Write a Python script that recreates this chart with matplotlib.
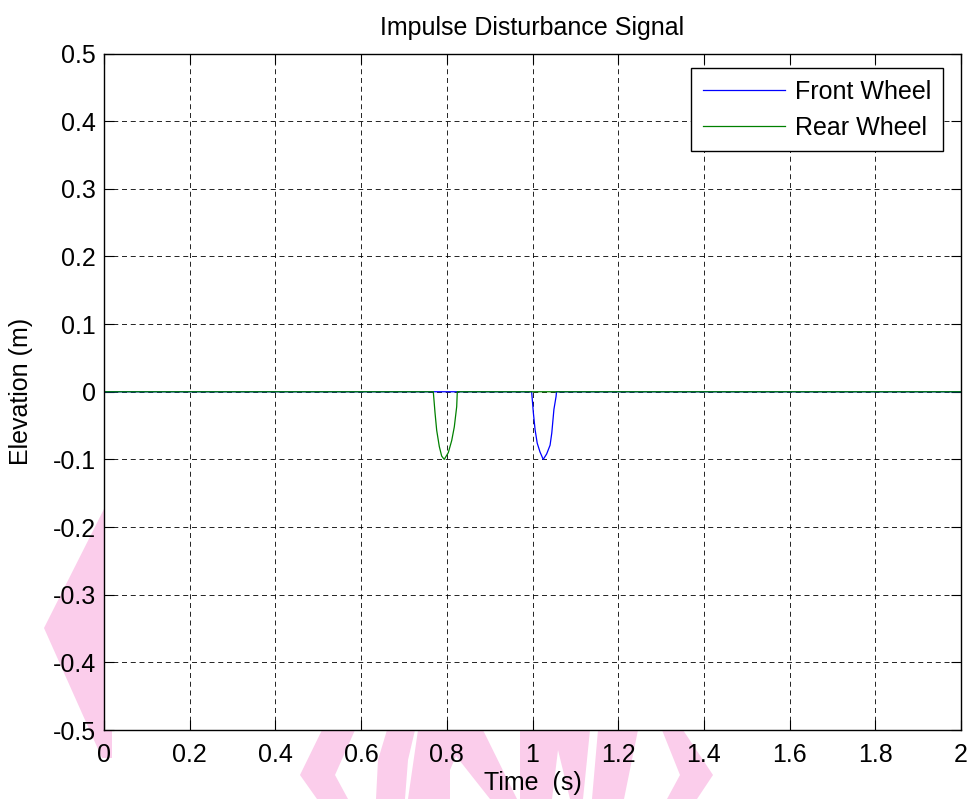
import numpy as np
import matplotlib
matplotlib.use('Agg')
import matplotlib.pyplot as plt
from matplotlib.patches import Polygon
from matplotlib.ticker import FormatStrFormatter

plt.rcParams['font.family'] = ['Liberation Sans', 'DejaVu Sans']
plt.rcParams['axes.unicode_minus'] = False

# road profile seen by each wheel (time in s, elevation in m)
t_front = [0.0, 0.998, 1.002, 1.006, 1.011, 1.0175, 1.025, 1.033, 1.041, 1.045, 1.050, 1.055, 1.056, 2.0]
y_front = [0.0, 0.0, -0.031, -0.056, -0.076, -0.089, -0.100, -0.092, -0.079, -0.061, -0.026, -0.007, 0.0, 0.0]

t_rear = [0.0, 0.7685, 0.7725, 0.7764, 0.7825, 0.788, 0.794, 0.8035, 0.8115, 0.8175, 0.8231, 0.8245, 2.0]
y_rear = [0.0, 0.0, -0.031, -0.057, -0.081, -0.095, -0.100, -0.090, -0.072, -0.052, -0.022, 0.0, 0.0]

x_ticks = np.round(np.arange(0, 2.01, 0.2), 1) + 0.0
y_ticks = np.round(np.arange(-0.5, 0.51, 0.1), 1) + 0.0

W, H = 972, 799
FS = 18
fig = plt.figure(figsize=(W / 100, H / 100), dpi=100)

# pink watermark behind the axes (pixel outlines, y measured from top)
mark_shapes = [
    [(106, 505), (44, 628), (102, 758), (112, 758), (112, 730), (110, 505)],
    [(322, 730), (355, 730), (335, 775), (348, 799), (317, 799), (300, 775)],
    [(387, 730), (415, 730), (408, 760), (405, 799), (376, 799), (378, 760)],
    [(418, 730), (483, 730), (517, 799), (490, 799), (456, 756), (450, 770), (450, 799), (408, 799)],
    [(520, 730), (590, 730), (583, 799), (570, 799), (558, 750), (552, 799), (520, 799)],
    [(598, 730), (638, 730), (624, 799), (592, 799)],
    [(662, 730), (683, 730), (713, 775), (697, 799), (667, 799), (680, 775)],
]
for pts in mark_shapes:
    fig.add_artist(Polygon([(x / W, 1 - y / H) for x, y in pts], closed=True,
                           transform=fig.transFigure, facecolor='#fbcdeb',
                           edgecolor='none', zorder=-5))

ax = fig.add_axes([104 / W, 1 - 730 / H, (961 - 104) / W, (730 - 53.5) / H])
ax.set_facecolor('white')

ax.plot(t_front, y_front, color='#0000ff', lw=0.9, label='Front Wheel')
ax.plot(t_rear, y_rear, color='#008000', lw=0.9, label='Rear Wheel')

ax.set_xlim(0, 2)
ax.set_ylim(-0.5, 0.5)
ax.set_xticks(x_ticks)
ax.set_yticks(y_ticks)
ax.xaxis.set_major_formatter(FormatStrFormatter('%g'))
ax.yaxis.set_major_formatter(FormatStrFormatter('%g'))
ax.tick_params(direction='in', top=True, right=True, length=7, width=0.8,
               labelsize=FS, colors='black')
ax.tick_params(axis='x', pad=9)
ax.tick_params(axis='y', pad=6)
for s in ax.spines.values():
    s.set_linewidth(1.0)
    s.set_color('black')

ax.grid(True, color='black', linestyle=(0, (6, 4.5)), lw=0.6)
ax.set_axisbelow(True)

ax.set_title('Impulse Disturbance Signal', fontsize=FS, pad=13)
ax.set_xlabel('Time  (s)', fontsize=FS, labelpad=3)
ax.set_ylabel('Elevation (m)', fontsize=FS)
ax.yaxis.set_label_coords(-0.083, 0.5)

leg = ax.legend(loc='upper right', bbox_to_anchor=(942.7 / W, 1 - 68.3 / H),
                bbox_transform=fig.transFigure, borderaxespad=0,
                fontsize=FS, fancybox=False, framealpha=1, edgecolor='black',
                handlelength=3.3, handletextpad=0.4, labelspacing=0.5,
                borderpad=0.45)
leg.get_frame().set_linewidth(1.0)

fig.savefig('out.png', dpi=100)
